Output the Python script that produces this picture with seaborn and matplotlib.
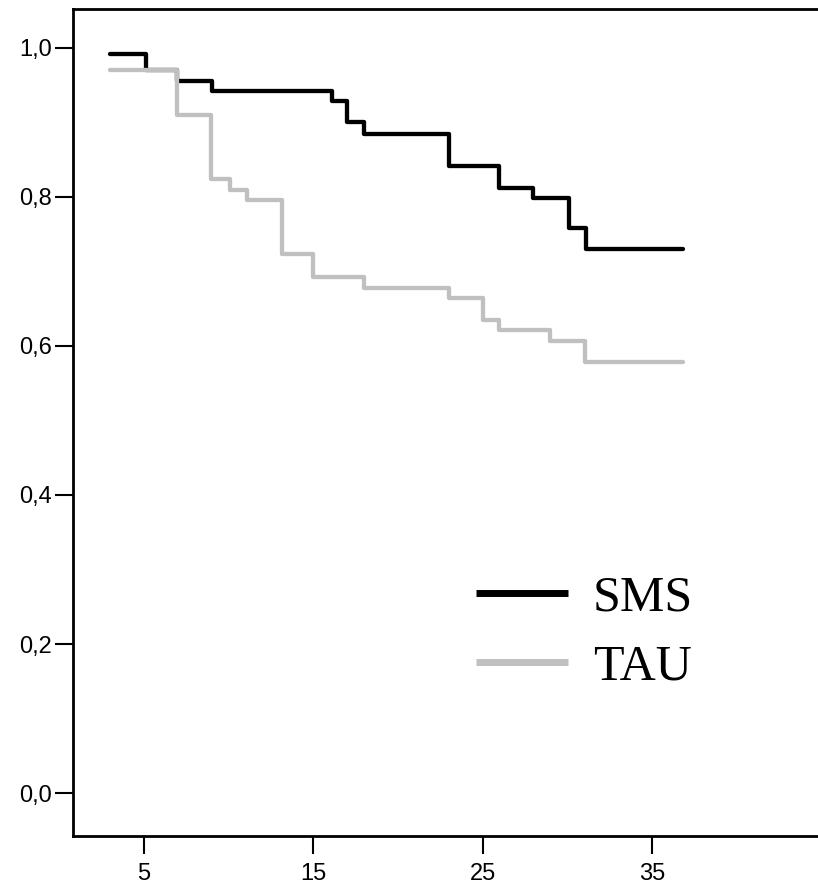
import numpy as np
import pandas as pd
import matplotlib
matplotlib.use("Agg")
import matplotlib.pyplot as plt
import seaborn as sns
from matplotlib.lines import Line2D

# Data
sms_time = [3.0, 5.15, 7.0, 9.05, 16.1, 17.0, 18.0, 23.0, 26.0, 28.0, 30.1, 31.1, 36.8]
sms_surv = [0.992, 0.970, 0.956, 0.942, 0.929, 0.900, 0.885, 0.842, 0.812, 0.798, 0.759, 0.730, 0.730]
tau_time = [3.0, 7.0, 9.0, 10.1, 11.1, 13.15, 15.0, 18.0, 23.0, 25.05, 26.0, 29.0, 31.05, 36.85]
tau_surv = [0.970, 0.910, 0.824, 0.809, 0.796, 0.724, 0.692, 0.678, 0.664, 0.635, 0.621, 0.607, 0.578, 0.578]
groups = ["SMS", "TAU"]
colors = {"SMS": "#000000", "TAU": "#c0c0c0"}
x_ticks = [5, 15, 25, 35]
y_ticks = [0.0, 0.2, 0.4, 0.6, 0.8, 1.0]
y_ticklabels = ["0,0", "0,2", "0,4", "0,6", "0,8", "1,0"]

df = pd.concat([
    pd.DataFrame({"time": sms_time, "surv": sms_surv, "group": "SMS"}),
    pd.DataFrame({"time": tau_time, "surv": tau_surv, "group": "TAU"}),
])

sns.set_style("white")
plt.rcParams["font.family"] = ["Liberation Sans", "DejaVu Sans"]
plt.rcParams["text.color"] = "black"

fig = plt.figure(figsize=(8.18, 8.84), dpi=100)
ax = fig.add_axes([73/818, 48/884, (821.5-73)/818, (875-48)/884])

sns.lineplot(data=df, x="time", y="surv", hue="group", hue_order=groups,
             palette=colors, drawstyle="steps-post", linewidth=3.1,
             estimator=None, sort=False, legend=False, ax=ax)

ax.set_xlim(0.84, 45)
ax.set_ylim(-0.0577, 1.0523)
ax.set_xticks(x_ticks)
ax.set_xticklabels([str(t) for t in x_ticks])
ax.set_yticks(y_ticks)
ax.set_yticklabels(y_ticklabels)
ax.set_xlabel("")
ax.set_ylabel("")

for s in ax.spines.values():
    s.set_color("black")
    s.set_linewidth(2.0)

ax.tick_params(axis="x", direction="out", length=13, width=1.5, pad=6.5,
               labelsize=17, colors="black", bottom=True)
ax.tick_params(axis="y", direction="out", length=13, width=1.5, pad=2.4,
               labelsize=17, colors="black", left=True)

handles = [Line2D([0], [0], color=colors[g], linewidth=5, solid_capstyle="butt") for g in groups]
leg = ax.legend(handles, groups, loc="upper left",
                bbox_to_anchor=(476/818, (884-575)/884), bbox_transform=fig.transFigure,
                frameon=False, borderpad=0, borderaxespad=0,
                handlelength=1.84, handletextpad=0.5, labelspacing=0.45,
                prop={"family": "Liberation Serif", "size": 36})
for t in leg.get_texts():
    t.set_color("black")

fig.savefig("out.png", dpi=100)
